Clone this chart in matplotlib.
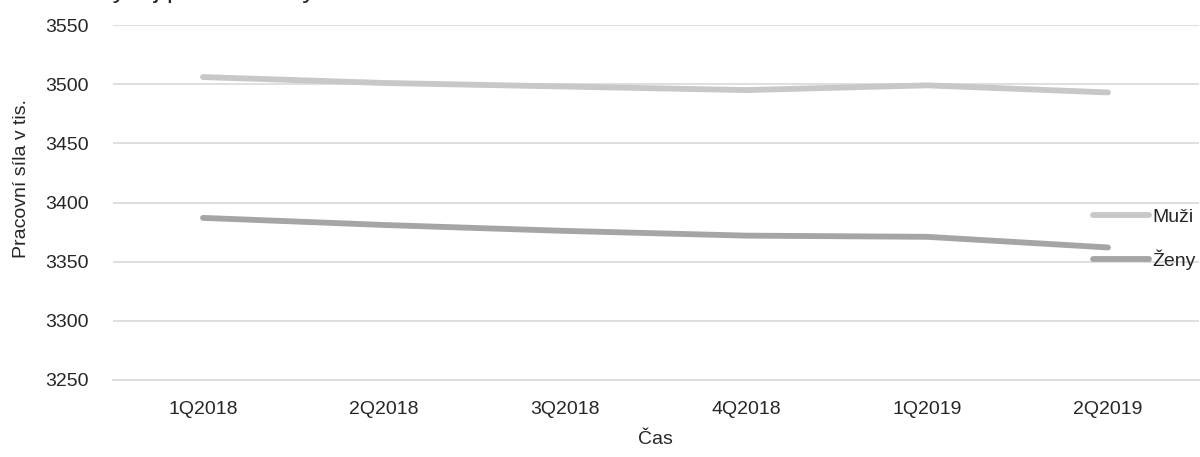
import matplotlib
matplotlib.use("Agg")
import matplotlib.pyplot as plt

# Data: labour force in thousands by quarter
quarters = ["1Q2018", "2Q2018", "3Q2018", "4Q2018", "1Q2019", "2Q2019"]
muzi = [3506, 3501, 3498, 3495, 3499, 3493]
zeny = [3387, 3381, 3376, 3372, 3371, 3362]
series_names = ["Muži", "Ženy"]
y_ticks = [3250, 3300, 3350, 3400, 3450, 3500, 3550]

plt.rcParams["font.family"] = ["Liberation Sans", "DejaVu Sans"]
FS = 14
TXT = "#262626"

W, H = 1200, 457
fig = plt.figure(figsize=(W / 100, H / 100), dpi=100)
left, right = 112.5 / W, 1198.5 / W
top, bottom = 1 - 25 / H, 1 - 380 / H
ax = fig.add_axes([left, bottom, right - left, top - bottom])

x = list(range(len(quarters)))
ax.plot(x, muzi, color="#c8c8c8", lw=4.2, solid_capstyle="round", label=series_names[0], zorder=3)
ax.plot(x, zeny, color="#a5a5a5", lw=4.2, solid_capstyle="round", label=series_names[1], zorder=3)

ax.set_xlim(-0.5, len(quarters) - 0.5)
ax.set_ylim(y_ticks[0], y_ticks[-1])
ax.set_yticks(y_ticks)
ax.set_xticks(x)
ax.set_xticklabels(quarters)
ax.grid(axis="y", color="#d9d9d9", lw=1.2)
ax.set_axisbelow(True)
for s in ["top", "right", "left"]:
    ax.spines[s].set_visible(False)
ax.spines["bottom"].set_color("#d9d9d9")
ax.spines["bottom"].set_linewidth(1.2)
ax.tick_params(axis="both", length=0, labelsize=FS, colors=TXT)
ax.tick_params(axis="y", pad=17)
ax.tick_params(axis="x", pad=15)

ax.set_xlabel("Čas", fontsize=FS, color=TXT)
ax.xaxis.set_label_coords(0.5, (1 - 440 / H - bottom) / (top - bottom))
ax.xaxis.label.set_va("center")
ax.set_ylabel("Pracovní síla v tis.", fontsize=FS, color=TXT)
ax.yaxis.set_label_coords((22 / W - left) / (right - left), (1 - 178 / H - bottom) / (top - bottom))
ax.yaxis.label.set_va("center")

leg = ax.legend(loc="center left", bbox_to_anchor=(1093 / W, 1 - 239 / H),
                bbox_transform=fig.transFigure, frameon=False, fontsize=FS,
                handlelength=2.9, handletextpad=0.15, labelspacing=1.2,
                borderpad=0, borderaxespad=0)
for t in leg.get_texts():
    t.set_color(TXT)

# Chart title, sitting at the very top edge
fig.text(95 / W, 1 + 2 / H, "Vývoj pracovní síly", fontsize=19, color=TXT,
         ha="left", va="baseline")

fig.savefig("out.png", dpi=100)
